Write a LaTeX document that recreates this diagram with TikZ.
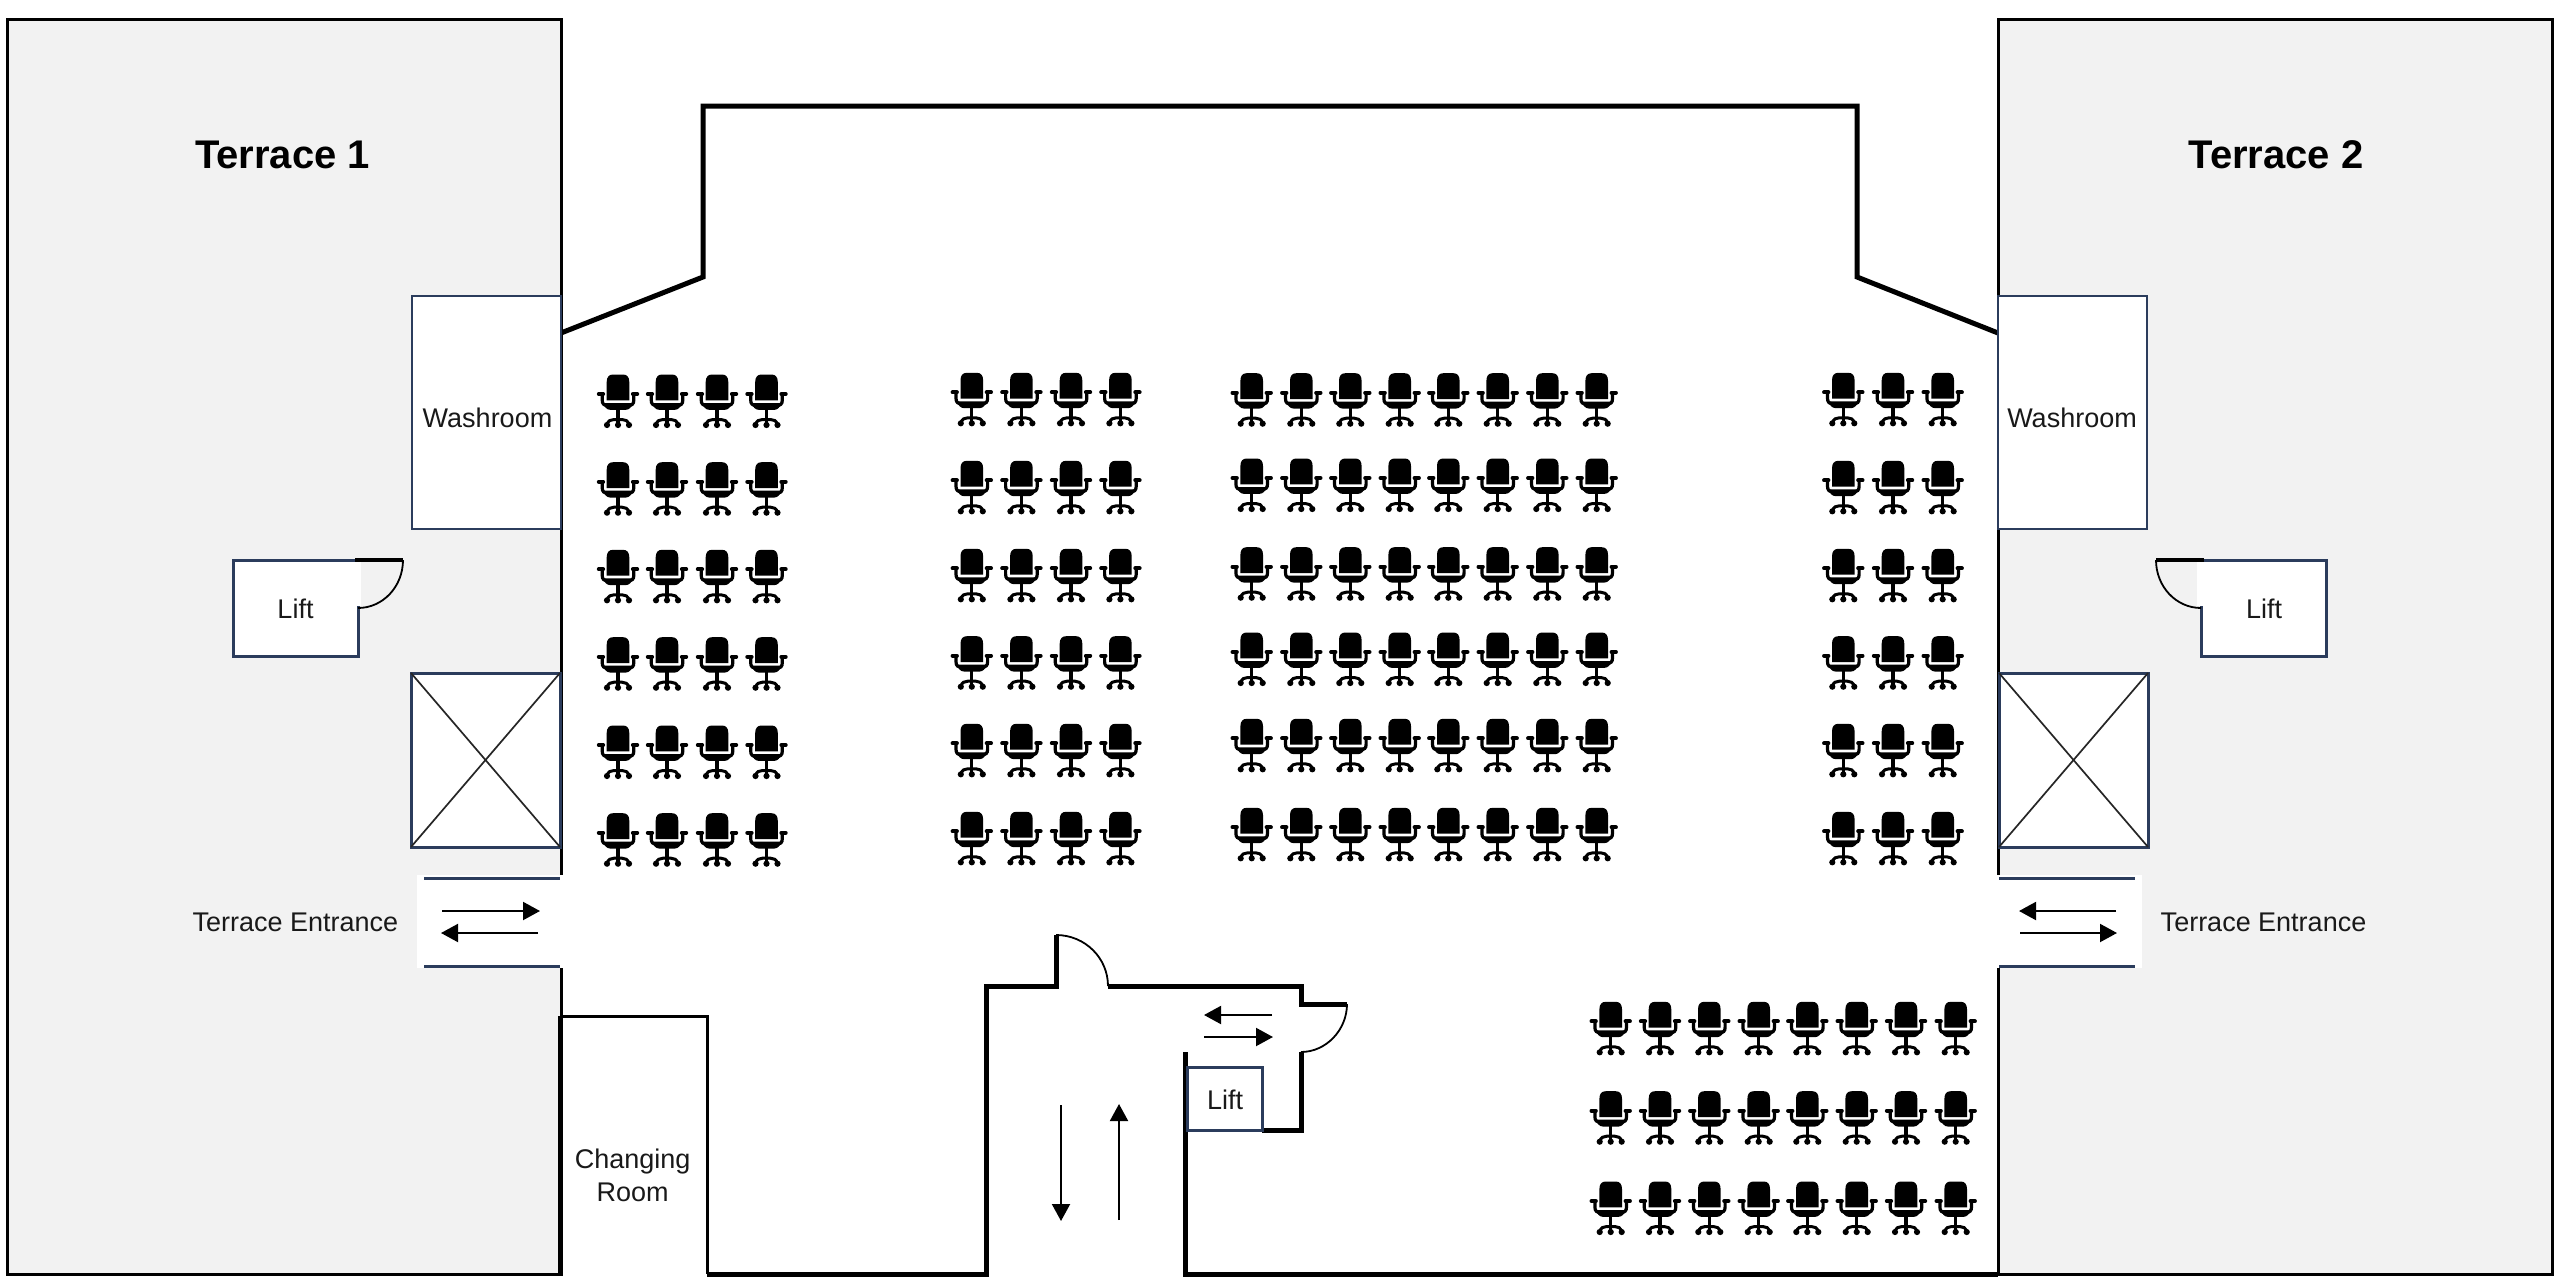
\documentclass[tikz,border=0pt]{standalone}
\usepackage{fontspec}
\setmainfont{Liberation Sans}
\usetikzlibrary{arrows.meta}
\definecolor{terracegrey}{HTML}{F2F2F2}
\definecolor{navyline}{HTML}{2B3C5C}
\tikzset{
  x=1pt,y=-1pt,
  terrace/.style={fill=terracegrey,draw=black,line width=3pt},
  wallthick/.style={draw=black,line width=5pt,line join=miter},
  wallthin/.style={draw=black,line width=3pt},
  roombox/.style={fill=white,draw=navyline,line width=3pt},
  washbox/.style={fill=white,draw=navyline,line width=2.5pt},
  roomline/.style={draw=navyline,line width=3pt},
  crossline/.style={draw=black!85,line width=1.7pt},
  doorswing/.style={draw=black,line width=1.8pt},
  doorleaf/.style={draw=black,line width=3.6pt},
  flowarrow/.style={draw=black,line width=2pt,-{Triangle[length=17pt,width=18pt]}},
  labeltext/.style={inner sep=0pt,anchor=base,text=black!90,font=\fontsize{27}{33}\selectfont,align=center},
  titletext/.style={inner sep=0pt,anchor=base,text=black,font=\fontsize{40}{44}\selectfont\bfseries},
  chairicon/.pic={
    \fill (-11.3,25.3) -- (-11.3,7) .. controls (-11.3,2) and (-9,-0.5) .. (-5,-0.5) -- (5,-0.5) .. controls (9,-0.5) and (11.3,2) .. (11.3,7) -- (11.3,25.3) -- cycle;
    \draw[line width=3.8pt,line cap=round] (-19.3,19) -- (-14.8,19);
    \draw[line width=3.8pt,line cap=round] (19.3,19) -- (14.8,19);
    \draw[line width=3.2pt] (-15.8,19) -- (-15.8,25) .. controls (-15.8,29) and (-14,30.5) .. (-10,30.5) -- (10,30.5) .. controls (14,30.5) and (15.8,29) .. (15.8,25) -- (15.8,19);
    \fill (-14.5,28) -- (14.5,28) .. controls (14,32) and (11,34.8) .. (8,34.8) -- (-8,34.8) .. controls (-11,34.8) and (-14,32) .. (-14.5,28) -- cycle;
    \fill (-1.6,34) rectangle (1.6,50);
    \draw[line width=3pt] (-11,50) .. controls (-10,45.5) and (-7,44.5) .. (-4,44.5) -- (4,44.5) .. controls (7,44.5) and (10,45.5) .. (11,50);
    \fill (-11,50) circle (3.1pt);
    \fill (0,50) circle (3.1pt);
    \fill (11,50) circle (3.1pt);
  }
}
\begin{document}
\begin{tikzpicture}
\useasboundingbox[fill=white] (0,0) rectangle (2560,1282);

% terraces
\path[terrace] (7,19) rectangle (561,1274);
\path[terrace] (1998,19) rectangle (2552,1274);

% entrance openings
\fill[white] (417,875) rectangle (563,968);
\fill[white] (1996,875) rectangle (2142,968);
\path[roomline] (424,878) -- (560,878);
\path[roomline] (424,966) -- (560,966);
\path[roomline] (1999,878) -- (2135,878);
\path[roomline] (1999,966) -- (2135,966);

% main room walls
\path[wallthick] (561,333) -- (703,277) -- (703,106) -- (1857,106) -- (1857,277) -- (1998,333);

% washrooms
\path[washbox] (412,296) rectangle (561,529);
\path[washbox] (1998,296) rectangle (2147,529);

% terrace lifts
\path[roombox] (233,560) rectangle (358,656);
\fill[white] (350,562) rectangle (361,606);
\path[doorleaf] (355,560) -- (403,560);
\path[doorswing] (403,560) .. controls (403,586.5) and (383,608) .. (358,608);
\path[roombox] (2201,560) rectangle (2326,656);
\fill[white] (2197,562) rectangle (2210,606);
\path[doorleaf] (2156,560) -- (2204,560);
\path[doorswing] (2156,560) .. controls (2156,586.5) and (2176,608) .. (2201,608);

% shafts
\path[roombox] (411,673) rectangle (560,847);
\path[crossline] (411,673) -- (560,847);
\path[crossline] (560,673) -- (411,847);
\path[roombox] (1999,673) rectangle (2148,847);
\path[crossline] (1999,673) -- (2148,847);
\path[crossline] (2148,673) -- (1999,847);

% changing room
\path[wallthin] (561,1016.5) -- (707,1016.5) -- (707,1274);
\path[wallthick] (560,1016) -- (560,1276);

% central walls
\path[wallthick] (707,1274) -- (986,1274) -- (986,986) -- (1056,986) -- (1056,935);
\path[doorswing] (1056,935) .. controls (1085,935) and (1108,958) .. (1108,986);
\path[wallthick] (1108,986) -- (1301,986) -- (1301,1004) -- (1347,1004);
\path[doorswing] (1347,1004) .. controls (1347,1030) and (1326,1052) .. (1301,1052);
\path[wallthick] (1301,1052) -- (1301,1130) -- (1262,1130);
\path[wallthick] (1185,1052) -- (1185,1274) -- (1998,1274);
\path[roombox] (1187,1067) rectangle (1262,1130);

% flow arrows
\coordinate (ta1) at (442,911);   \coordinate (tb1) at (540,911);
\coordinate (ta2) at (538,933);   \coordinate (tb2) at (441,933);
\coordinate (ta3) at (2116,911);  \coordinate (tb3) at (2019,911);
\coordinate (ta4) at (2020,933);  \coordinate (tb4) at (2117,933);
\coordinate (ca1) at (1061,1105); \coordinate (cb1) at (1061,1221);
\coordinate (ca2) at (1119,1220); \coordinate (cb2) at (1119,1104);
\coordinate (ca3) at (1272,1015); \coordinate (cb3) at (1204,1015);
\coordinate (ca4) at (1204,1037); \coordinate (cb4) at (1273,1037);
\foreach \a/\b in {ta1/tb1,ta2/tb2,ta3/tb3,ta4/tb4,ca1/cb1,ca2/cb2,ca3/cb3,ca4/cb4}
  \draw[flowarrow] (\a) -- (\b);

% chairs
\foreach \cx in {618,667,717,766.5}
  \foreach \cy in {375,462.7,550.3,637.7,726,813.7}
    \pic at (\cx,\cy) {chairicon};
\foreach \cx in {971.8,1021.4,1071,1120.4}
  \foreach \cy in {373.3,461.3,549.3,636.7,724.3,812.3}
    \pic at (\cx,\cy) {chairicon};
\foreach \cx in {1251.7,1301.3,1350.3,1399.7,1448.3,1497.7,1547.3,1596.7}
  \foreach \cy in {373.7,459,547.7,633,719.3,808.3}
    \pic at (\cx,\cy) {chairicon};
\foreach \cx in {1843.3,1893,1942.7}
  \foreach \cy in {373.3,461.3,549.3,636.7,724.3,812.3}
    \pic at (\cx,\cy) {chairicon};
\foreach \cx in {1610.7,1660,1709.3,1758.7,1807.3,1856.7,1906,1955.7}
  \foreach \cy in {1002.3,1091.7,1182}
    \pic at (\cx,\cy) {chairicon};

% labels
\node[titletext] (t1) at (282.5,168) {Terrace 1};
\node[titletext] (t2) at (2276,168) {Terrace 2};
\node[labeltext] (w1) at (487.5,427.3) {Washroom};
\node[labeltext] (w2) at (2072,427.3) {Washroom};
\node[labeltext] (l1) at (295.5,618) {Lift};
\node[labeltext] (l2) at (2264,618) {Lift};
\node[labeltext] (l3) at (1225,1109) {Lift};
\node[labeltext] (e1) at (295.5,931.7) {Terrace Entrance};
\node[labeltext] (e2) at (2263.5,931.7) {Terrace Entrance};
\node[labeltext] (c1) at (632.7,1168) {Changing};
\node[labeltext] (c2) at (632.7,1201) {Room};
\end{tikzpicture}
\end{document}
